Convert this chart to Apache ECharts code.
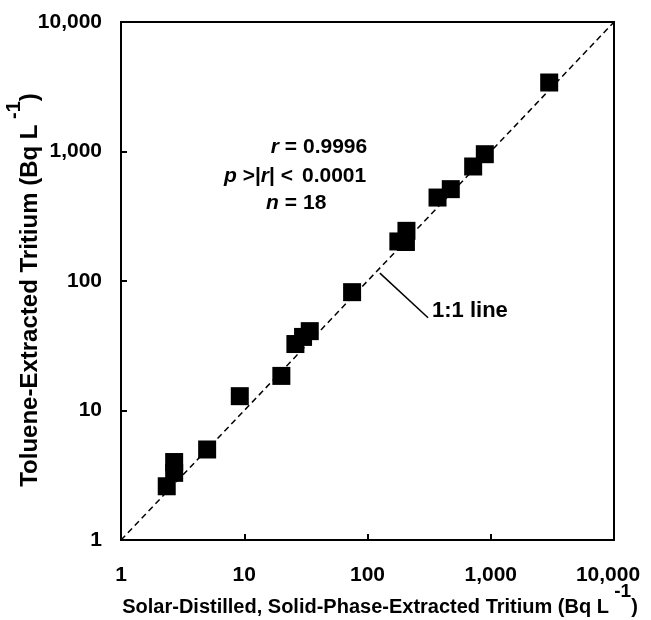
<!DOCTYPE html>
<html>
<head>
<meta charset="utf-8">
<script src="https://cdn.jsdelivr.net/npm/echarts@6/dist/echarts.min.js"></script>
<style>html,body{margin:0;padding:0;background:#fff;}#c{width:651px;height:620px;}</style>
</head>
<body>
<div id="c"></div>
<script>
// Solar-distilled SPE tritium (x) vs toluene-extracted tritium (y), Bq/L
var xVals = [2.35, 2.7, 2.7, 5.0, 9.2, 20, 26, 30, 34, 75, 178, 207, 205, 370, 474, 720, 895, 2980];
var yVals = [2.6, 3.3, 4.0, 5.0, 12.9, 18.5, 32.6, 37, 41, 82, 202, 244, 200, 441, 512, 766, 953, 3410];
var oneToOne = [1, 10000];
var leaderStart = [126, 115];
var leaderEnd = [310, 52];

var points = xVals.map(function (x, i) { return [x, yVals[i]]; });
var FONT = '"Liberation Sans", Arial, sans-serif';

function fmt(v) { return Math.round(v).toLocaleString('en-US'); }
function fmtX(v) {
  var s = fmt(v);
  return Math.round(v) === 10000 ? '{last|' + s + '}' : s;
}

var chart = echarts.init(document.getElementById('c'), null, { renderer: 'canvas' });
chart.setOption({
  animation: false,
  backgroundColor: '#fff',
  grid: { left: 121, right: 37, top: 22, bottom: 80, show: true, borderColor: '#000', borderWidth: 2, backgroundColor: 'transparent' },
  xAxis: {
    type: 'log', logBase: 10, min: 1, max: 10000,
    axisLine: { show: true, lineStyle: { color: '#000', width: 2 } },
    axisTick: { show: true, inside: true, length: 6, lineStyle: { color: '#000', width: 2 } },
    minorTick: { show: false },
    splitLine: { show: false },
    axisLabel: {
      margin: 25, color: '#000', fontFamily: FONT, fontWeight: 'bold', fontSize: 21, formatter: fmtX,
      rich: { last: { color: '#000', fontFamily: FONT, fontWeight: 'bold', fontSize: 21, padding: [0, 12, 0, 0] } }
    }
  },
  yAxis: {
    type: 'log', logBase: 10, min: 1, max: 10000,
    axisLine: { show: true, lineStyle: { color: '#000', width: 2 } },
    axisTick: { show: true, inside: true, length: 6, lineStyle: { color: '#000', width: 2 } },
    minorTick: { show: false },
    splitLine: { show: false },
    axisLabel: { margin: 19, color: '#000', fontFamily: FONT, fontWeight: 'bold', fontSize: 21, formatter: fmt }
  },
  series: [
    {
      type: 'line',
      data: [[oneToOne[0], oneToOne[0]], [oneToOne[1], oneToOne[1]]],
      symbol: 'none',
      lineStyle: { color: '#000', width: 1.5, type: [6, 4] },
      z: 1,
      silent: true
    },
    {
      type: 'scatter',
      data: points,
      symbol: 'rect',
      symbolSize: 18,
      itemStyle: { color: '#000', opacity: 1 },
      z: 3,
      markLine: {
        silent: true,
        symbol: ['none', 'none'],
        label: { show: false },
        lineStyle: { color: '#000', width: 1.5, type: 'solid' },
        data: [[{ coord: leaderStart }, { coord: leaderEnd }]]
      }
    }
  ],
  graphic: [
    { type: 'text', x: 297, y: 147, style: { text: '{i|r} =', align: 'right', verticalAlign: 'middle', font: 'bold 21px ' + FONT, fill: '#000', rich: { i: { fontStyle: 'italic', fontWeight: 'bold', fontSize: 21, fontFamily: FONT } } } },
    { type: 'text', x: 303, y: 147, style: { text: '0.9996', align: 'left', verticalAlign: 'middle', font: 'bold 21px ' + FONT, fill: '#000' } },
    { type: 'text', x: 293, y: 176, style: { text: '{i|p} >|{i|r}| <', align: 'right', verticalAlign: 'middle', font: 'bold 21px ' + FONT, fill: '#000', rich: { i: { fontStyle: 'italic', fontWeight: 'bold', fontSize: 21, fontFamily: FONT } } } },
    { type: 'text', x: 302, y: 176, style: { text: '0.0001', align: 'left', verticalAlign: 'middle', font: 'bold 21px ' + FONT, fill: '#000' } },
    { type: 'text', x: 297, y: 203, style: { text: '{i|n} =', align: 'right', verticalAlign: 'middle', font: 'bold 21px ' + FONT, fill: '#000', rich: { i: { fontStyle: 'italic', fontWeight: 'bold', fontSize: 21, fontFamily: FONT } } } },
    { type: 'text', x: 303, y: 203, style: { text: '18', align: 'left', verticalAlign: 'middle', font: 'bold 21px ' + FONT, fill: '#000' } },
    { type: 'text', x: 432, y: 311, style: { text: '1:1 line', align: 'left', verticalAlign: 'middle', font: 'bold 22px ' + FONT, fill: '#000' } },
    {
      type: 'text', x: 380, y: 607,
      style: {
        text: '{t|Solar-Distilled, Solid-Phase-Extracted Tritium (Bq L}{s| -1}{t|)}',
        align: 'center', verticalAlign: 'middle', fill: '#000',
        rich: {
          t: { fontFamily: FONT, fontWeight: 'bold', fontSize: 20, lineHeight: 50 },
          s: { fontFamily: FONT, fontWeight: 'bold', fontSize: 19, lineHeight: 20, verticalAlign: 'top' }
        }
      }
    },
    {
      type: 'text', x: 30, y: 290, rotation: Math.PI / 2,
      style: {
        text: '{t|Toluene-Extracted Tritium (Bq L}{s| -1}{t|)}',
        align: 'center', verticalAlign: 'middle', fill: '#000',
        rich: {
          t: { fontFamily: FONT, fontWeight: 'bold', fontSize: 24, lineHeight: 52 },
          s: { fontFamily: FONT, fontWeight: 'bold', fontSize: 20, lineHeight: 20, verticalAlign: 'top' }
        }
      }
    }
  ]
});
</script>
</body>
</html>
